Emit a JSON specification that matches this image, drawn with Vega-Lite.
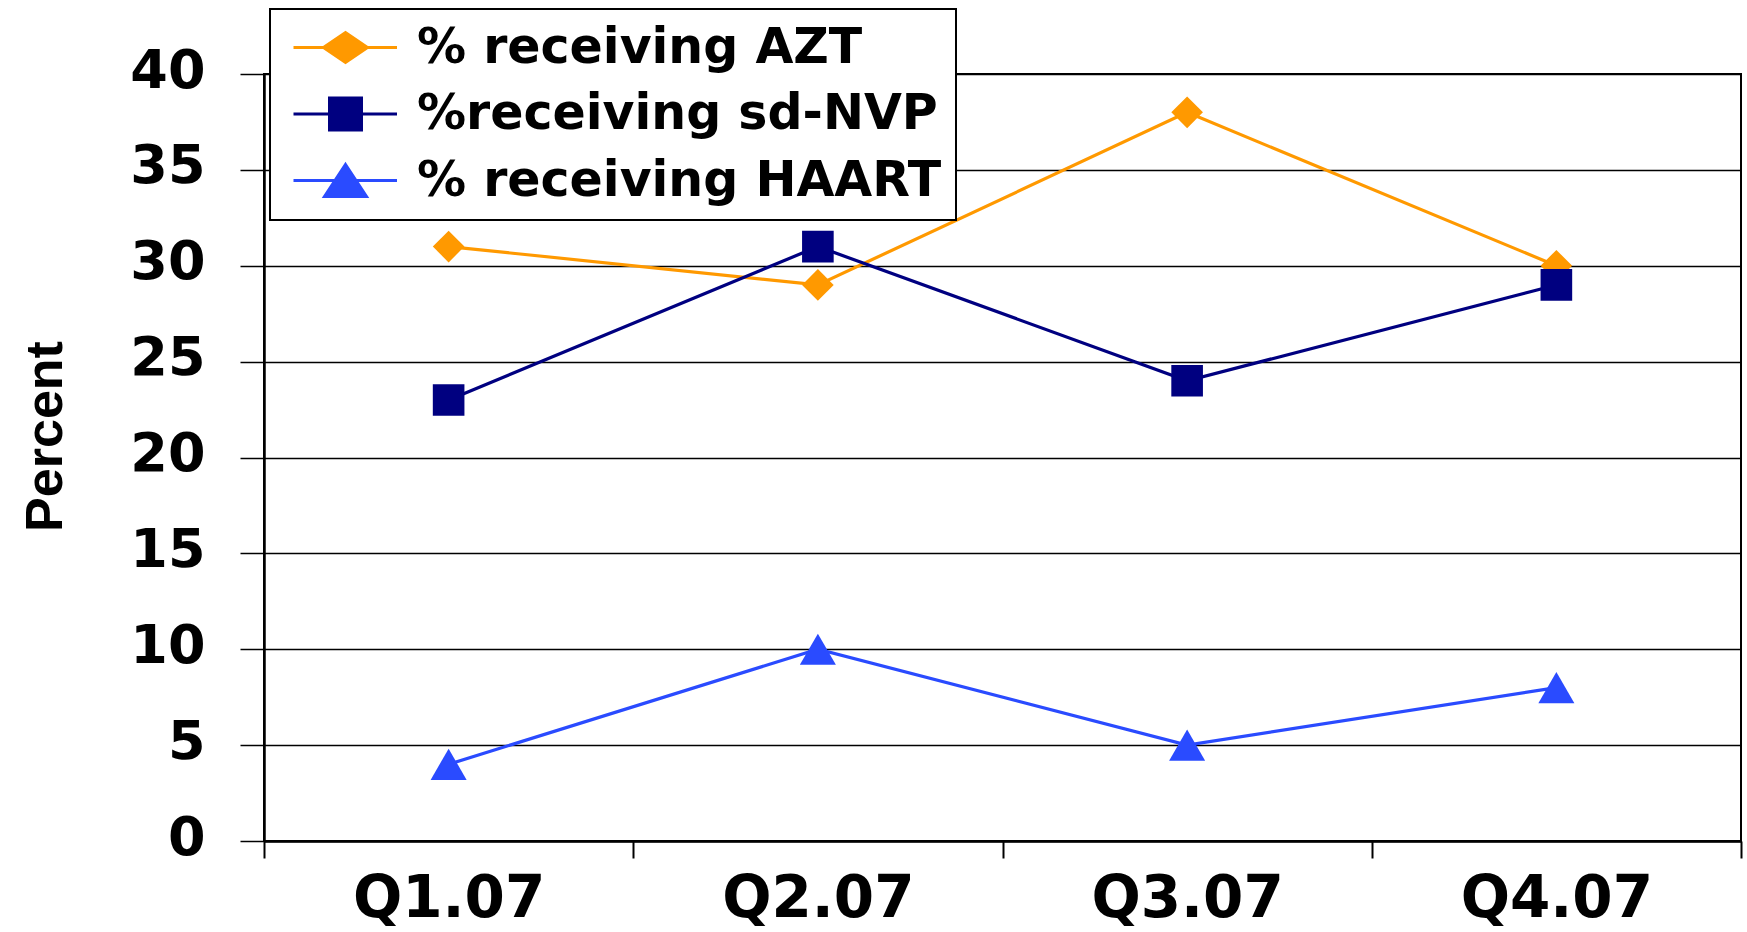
{
  "$schema": "https://vega.github.io/schema/vega-lite/v6.json",
  "width": 1477,
  "height": 767,
  "autosize": "none",
  "padding": {"left": 264, "top": 74, "right": 6, "bottom": 91},
  "background": "white",
  "config": {
    "view": {"stroke": "black", "strokeWidth": 2},
    "font": "DejaVu Sans"
  },
  "data": {
    "values": [
      {"quarter": "Q1.07", "series": "% receiving AZT", "value": 31},
      {"quarter": "Q2.07", "series": "% receiving AZT", "value": 29},
      {"quarter": "Q3.07", "series": "% receiving AZT", "value": 38},
      {"quarter": "Q4.07", "series": "% receiving AZT", "value": 30},
      {"quarter": "Q1.07", "series": "%receiving sd-NVP", "value": 23},
      {"quarter": "Q2.07", "series": "%receiving sd-NVP", "value": 31},
      {"quarter": "Q3.07", "series": "%receiving sd-NVP", "value": 24},
      {"quarter": "Q4.07", "series": "%receiving sd-NVP", "value": 29},
      {"quarter": "Q1.07", "series": "% receiving HAART", "value": 4},
      {"quarter": "Q2.07", "series": "% receiving HAART", "value": 10},
      {"quarter": "Q3.07", "series": "% receiving HAART", "value": 5},
      {"quarter": "Q4.07", "series": "% receiving HAART", "value": 8}
    ]
  },
  "encoding": {
    "x": {
      "field": "quarter",
      "type": "nominal",
      "sort": null,
      "bandPosition": 0.5,
      "scale": {"type": "band", "paddingInner": 0, "paddingOuter": 0},
      "axis": {
        "title": null,
        "labelAngle": 0,
        "labelLimit": 0,
        "tickBand": "extent",
        "tickSize": 17,
        "tickWidth": 2,
        "tickColor": "black",
        "domainColor": "black",
        "domainWidth": 2.5,
        "labelFont": "DejaVu Sans",
        "labelFontSize": 58,
        "labelFontWeight": "bold",
        "labelColor": "black",
        "labelBaseline": "alphabetic",
        "labelPadding": 58,
        "grid": false
      }
    },
    "y": {
      "field": "value",
      "type": "quantitative",
      "scale": {"domain": [0, 40], "nice": false},
      "axis": {
        "values": [0, 5, 10, 15, 20, 25, 30, 35, 40],
        "grid": true,
        "gridColor": "black",
        "gridWidth": 1.5,
        "gridOpacity": 1,
        "domainColor": "black",
        "domainWidth": 2.5,
        "tickColor": "black",
        "tickSize": 24,
        "tickWidth": 1.5,
        "labelFont": "DejaVu Sans",
        "labelFontSize": 54,
        "labelFontWeight": "bold",
        "labelColor": "black",
        "labelPadding": 35,
        "labelOffset": -3,
        "title": "Percent",
        "titleFont": "Liberation Sans Narrow, Liberation Sans, sans-serif",
        "titleFontSize": 52,
        "titleFontWeight": "bold",
        "titleColor": "black",
        "titleAngle": -90,
        "titleAlign": "center",
        "titleBaseline": "alphabetic",
        "titleX": -203,
        "titleY": 362
      }
    },
    "color": {
      "field": "series",
      "type": "nominal",
      "scale": {
        "domain": ["% receiving AZT", "%receiving sd-NVP", "% receiving HAART"],
        "range": ["#FF9900", "#000080", "#2A4BFF"]
      },
      "legend": {
        "orient": "none",
        "legendX": 6,
        "legendY": -65,
        "title": null,
        "padding": 14,
        "fillColor": "white",
        "strokeColor": "black",
        "labelFont": "DejaVu Sans",
        "labelFontSize": 49,
        "labelFontWeight": "bold",
        "labelColor": "black",
        "labelLimit": 1000,
        "labelOffset": 84,
        "symbolSize": 900,
        "symbolStrokeWidth": 3,
        "rowPadding": 16.5,
        "encode": {
          "legend": {"update": {"strokeWidth": {"value": 2}}},
          "symbols": {
            "update": {
              "shape": {"signal": "datum.value === '% receiving AZT' ? 'M-1.0 0L5.9 0M1.0 0L2.467 -1L3.933 0L2.467 1Z' : datum.value === '%receiving sd-NVP' ? 'M-1.0 0L5.9 0M1.4 -1.067L3.533 -1.067L3.533 1.067L1.4 1.067Z' : 'M-1.0 0L5.9 0M2.467 -1.067L3.867 1.067L1.067 1.067Z'"},
              "stroke": {"signal": "datum.value === '% receiving AZT' ? '#FF9900' : datum.value === '%receiving sd-NVP' ? '#000080' : '#0000FF'"},
              "fill": {"signal": "datum.value === '% receiving AZT' ? '#FF9900' : datum.value === '%receiving sd-NVP' ? '#000080' : '#3366FF'"},
              "strokeWidth": {"value": 3}
            }
          }
        }
      }
    }
  },
  "layer": [
    {
      "mark": {"type": "line", "strokeWidth": 3.2}
    },
    {
      "transform": [{"filter": {"field": "series", "equal": "% receiving AZT"}}],
      "mark": {"type": "point", "shape": "diamond", "filled": true, "size": 1000, "opacity": 1}
    },
    {
      "transform": [{"filter": {"field": "series", "equal": "%receiving sd-NVP"}}],
      "mark": {"type": "point", "shape": "square", "filled": true, "size": 1000, "opacity": 1}
    },
    {
      "transform": [{"filter": {"field": "series", "equal": "% receiving HAART"}}],
      "mark": {"type": "point", "shape": "triangle-up", "filled": true, "size": 1300, "opacity": 1}
    }
  ]
}
